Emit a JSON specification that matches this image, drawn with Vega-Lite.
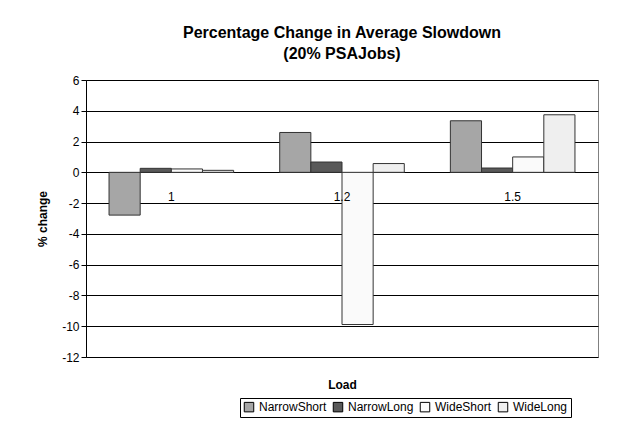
{
  "$schema": "https://vega.github.io/schema/vega-lite/v6.json",
  "width": 512,
  "height": 277,
  "autosize": "none",
  "padding": {"left": 86, "top": 80, "right": 43, "bottom": 76},
  "background": "white",
  "config": {
    "font": "Liberation Sans",
    "view": {"stroke": "#808080"},
    "axis": {"labelColor": "black", "titleColor": "black", "labelFontSize": 12, "titleFontSize": 12, "titleFontWeight": "bold"},
    "axisY": {"values": [-12, -10, -8, -6, -4, -2, 0, 2, 4, 6], "labelOverlap": false, "labelFlush": false, "labelExpr": "'' + datum.value", "gridColor": "black", "gridOpacity": 1, "domainColor": "black", "tickColor": "black", "titlePadding": 12}
  },
  "title": {"text": ["Percentage Change in Average Slowdown", "(20% PSAJobs)"], "fontSize": 16, "fontWeight": "bold", "color": "black", "offset": 12, "lineHeight": 21},
  "data": {
    "values": [
      {"load": "1", "series": "NarrowShort", "value": -2.78},
      {"load": "1", "series": "NarrowLong", "value": 0.26},
      {"load": "1", "series": "WideShort", "value": 0.22},
      {"load": "1", "series": "WideLong", "value": 0.13},
      {"load": "1.2", "series": "NarrowShort", "value": 2.59},
      {"load": "1.2", "series": "NarrowLong", "value": 0.67},
      {"load": "1.2", "series": "WideShort", "value": -9.89},
      {"load": "1.2", "series": "WideLong", "value": 0.57},
      {"load": "1.5", "series": "NarrowShort", "value": 3.35},
      {"load": "1.5", "series": "NarrowLong", "value": 0.28},
      {"load": "1.5", "series": "WideShort", "value": 1.0},
      {"load": "1.5", "series": "WideLong", "value": 3.74}
    ]
  },
  "encoding": {
    "x": {"field": "load", "type": "nominal", "title": "Load",
      "scale": {"paddingInner": 0.27, "paddingOuter": 0.135},
      "axis": {"labels": false, "ticks": false, "domain": false, "titlePadding": 22}}
  },
  "layer": [
    {
      "mark": {"type": "bar", "stroke": "#333", "strokeWidth": 1},
      "encoding": {
        "xOffset": {"field": "series", "sort": ["NarrowShort", "NarrowLong", "WideShort", "WideLong"], "scale": {"paddingInner": 0, "paddingOuter": 0}},
        "y": {"field": "value", "type": "quantitative", "title": "% change", "scale": {"domain": [-12, 6]}},
        "fill": {"field": "series", "type": "nominal",
          "scale": {"domain": ["NarrowShort", "NarrowLong", "WideShort", "WideLong"], "range": ["#a6a6a6", "#595959", "#fafafa", "#efefef"]},
          "legend": {"orient": "none", "legendX": 154, "legendY": 318, "direction": "horizontal", "title": null, "symbolType": "square", "symbolStrokeColor": "black", "symbolStrokeWidth": 1, "symbolSize": 90, "labelFontSize": 12, "labelColor": "black", "strokeColor": "black", "padding": 3, "columnPadding": 4, "symbolOffset": 0}}
      }
    },
    {
      "mark": {"type": "rule", "color": "black"},
      "encoding": {"y": {"datum": 0, "title": "% change"}}
    },
    {
      "transform": [{"filter": "datum.series == 'NarrowShort'"}],
      "mark": {"type": "text", "fontSize": 12, "fontWeight": 400, "baseline": "middle", "font": "Liberation Sans"},
      "encoding": {"text": {"field": "load"}, "y": {"datum": -1.6, "title": "% change"}}
    }
  ]
}
